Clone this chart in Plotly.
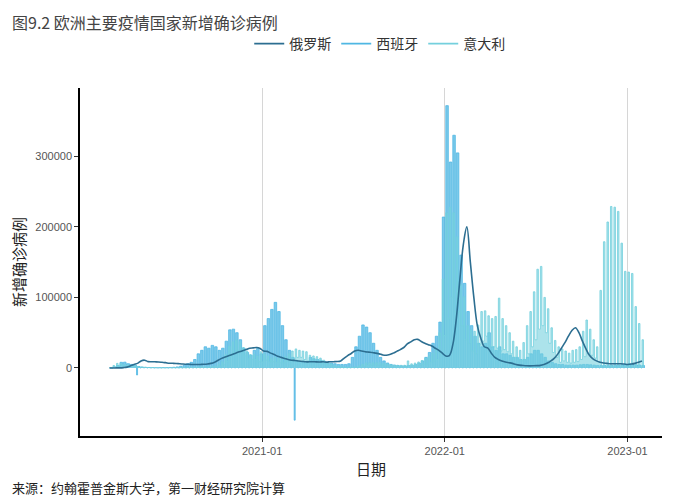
import plotly.graph_objects as go
import pandas as pd

# weekly series, first week starts 2020-03-02
start_week = "2020-03-02"

# 俄罗斯: weekly level of the smoothed daily curve
russia = [
    0, 10, 60, 150, 500, 1200, 3000, 5000, 6500, 10000, 11000, 9000, 8800,
    8700, 8500, 8000, 7500, 6700, 6600, 6400, 5900, 5500, 5200, 5100, 4800,
    4900, 5000, 5200, 5700, 6500, 8200, 10900, 13600, 15700, 17300, 19000, 21000,
    22800, 24500, 26000, 28000, 28500, 29000, 27500, 24000, 23500, 21000, 19000, 16500,
    15000, 13500, 12000, 11000, 10500, 9800, 9200, 8700, 8700, 8800, 8600, 8500,
    8700, 8300, 8800, 8900, 9100, 10000, 14000, 17500, 20500, 24000, 25000, 24000,
    23000, 22500, 22000, 21000, 20000, 18500, 18000, 19000, 21000, 23500, 26000, 29000,
    34000, 37000, 40000, 40500, 37500, 35000, 33000, 31000, 28000, 25000, 21000, 17000,
    17500, 33000, 70000, 125000, 175000, 200000, 150000, 100000, 60000, 42000, 30000, 28000,
    21000, 15000, 12000, 10000, 8500, 7500, 6500, 5000, 4000, 3500, 3100, 3000,
    3100, 3300, 3700, 5000, 7000, 10000, 14000, 20000, 28000, 36000, 45000, 53000,
    57000, 50000, 38000, 27000, 18000, 13000, 10000, 8000, 7000, 6500, 6000, 6000,
    6000, 6000, 5500, 5000, 5500, 6500, 8000, 10000,
]

# 西班牙: weekly peak report and weekly low (incl. negative revisions)
spain_high = [
    100, 1500, 3500, 8000, 8200, 6000, 5000, 4000, 2000, 1200, 800, 600, 500,
    400, 400, 500, 500, 700, 1000, 1500, 2500, 4000, 6000, 8000, 12000,
    20000, 25000, 30000, 28000, 32000, 30000, 25000, 28000, 38000, 54000, 55000, 50000,
    40000, 28000, 22000, 18000, 25000, 28000, 20000, 60000, 70000, 83000, 93000, 80000,
    60000, 40000, 25000, 15000, 10000, 9000, 10000, 8000, 15000, 13000, 12000, 11000,
    9000, 7000, 7000, 6000, 5000, 5000, 5000, 6000, 15000, 30000, 45000, 61000,
    58000, 50000, 35000, 25000, 15000, 10000, 7000, 5000, 4000, 3500, 3000, 3000,
    3500, 4000, 5000, 7000, 10000, 15000, 22000, 35000, 45000, 65000, 214000, 372000,
    292000, 330000, 305000, 160000, 120000, 80000, 60000, 45000, 35000, 30000, 35000, 50000,
    30000, 25000, 30000, 20000, 20000, 18000, 15000, 15000, 12000, 12000, 15000, 20000,
    25000, 25000, 20000, 15000, 10000, 8000, 6000, 5000, 5000, 4000, 4000, 4000,
    4000, 4500, 5000, 5000, 4500, 4000, 3500, 3500, 3500, 3500, 3500, 4000,
    4000, 4500, 5000, 6000, 5000, 4500, 4000, 3500,
]
spain_low = [
    0, 500, 2000, 6000, 5500, 4000, 3500, -10000, 0, 0, 0, 0, 0,
    0, 0, 0, 0, 0, 0, 0, 0, 0, 0, 0, 0,
    0, 0, 0, 0, 0, 0, 0, 0, 0, 0, 0, 0,
    0, 0, 0, 0, 0, 0, 0, 0, 0, 0, 0, 0,
    0, 0, 0, -74000, 0, 0, 0, 0, 0, 0, 0, 0,
    0, 0, 0, 0, 0, 0, 0, 0, 0, 0, 0, 0,
    0, 0, 0, 0, 0, 0, 0, 0, 0, 0, 0, 0,
    0, 0, 0, 0, 0, 0, 0, 0, 0, 0, 0, 0,
    0, 0, 0, 0, 0, 0, 0, 0, 0, 0, 0, 0,
    0, 0, 0, 0, 0, 0, 0, 0, 0, 0, 0, 0,
    0, 0, 0, 0, 0, 0, 0, 0, 0, 0, 0, 0,
    0, 0, 0, 0, 0, 0, 0, 0, 0, 0, 0, 0,
    0, 0, 0, 0, 0, 0, 0, 0,
]

# 意大利: weekly peak report and weekly low
italy_high = [
    600, 3500, 6500, 6500, 4800, 4300, 3800, 3400, 2100, 1400, 1000, 700, 600,
    400, 350, 330, 300, 300, 300, 300, 380, 400, 550, 650, 1000,
    1400, 1700, 1600, 1700, 1900, 2800, 5400, 8800, 19000, 31000, 37000, 40000,
    37000, 29000, 24000, 19000, 19000, 17000, 23000, 20000, 17000, 14000, 15000, 14000,
    15000, 16000, 20000, 24000, 27000, 25000, 24000, 23000, 18000, 17000, 16000, 14000,
    11000, 8000, 6000, 4000, 2500, 1900, 1200, 1000, 1100, 1600, 3100, 5100,
    7000, 7200, 7400, 7300, 7800, 6700, 5900, 4500, 4000, 3800, 3700, 3800,
    10000, 5800, 7000, 8500, 10600, 13700, 17000, 21000, 28000, 50000, 126000, 220000,
    228000, 220000, 186000, 118000, 101000, 60000, 54000, 52000, 61000, 80000, 81000, 74000,
    70000, 73000, 99000, 70000, 60000, 50000, 38000, 30000, 25000, 36000, 60000, 80000,
    108000, 140000, 144000, 100000, 84000, 57000, 39000, 30000, 27000, 24000, 21000, 25000,
    26000, 30000, 52000, 68000, 55000, 40000, 30000, 110000, 179000, 207000, 229000, 228000,
    222000, 177000, 137000, 136000, 134000, 87000, 63000, 40000,
]
italy_low = [
    200, 1500, 3200, 4000, 3800, 2900, 2200, 2000, 1200, 800, 500, 300, 300,
    200, 200, 180, 150, 140, 160, 170, 200, 250, 300, 400, 500,
    950, 1000, 1100, 1200, 1350, 1600, 2500, 4500, 9000, 17000, 22000, 25000,
    23000, 17000, 13000, 12000, 12000, 9000, 8500, 11000, 8500, 9000, 7900, 7500,
    7300, 9500, 10000, 13000, 15000, 15000, 12000, 10000, 7700, 8800, 8900, 6000,
    5100, 3500, 2500, 1800, 1300, 1000, 500, 500, 600, 800, 1500, 2500,
    3500, 3900, 4000, 3900, 4000, 3200, 3000, 2700, 2300, 2100, 2000, 2200,
    2400, 3000, 3000, 4000, 5000, 6000, 8000, 10000, 12000, 21000, 46000, 70000,
    100000, 80000, 80000, 60000, 40000, 35000, 24000, 20000, 33000, 38000, 45000, 30000,
    30000, 28000, 24000, 26000, 23000, 20000, 15000, 12000, 10000, 12000, 20000, 30000,
    40000, 55000, 60000, 50000, 35000, 22000, 15000, 8000, 10000, 8000, 7000, 8000,
    9000, 12000, 16000, 20000, 18000, 14000, 9000, 1500, 1500, 1500, 1500, 1500,
    1500, 1500, 1500, 1500, 1500, 1500, 1500, 1500,
]

y_ticks = [0, 100000, 200000, 300000]
x_ticks = ["2021-01-01", "2022-01-01", "2023-01-01"]

colors = {"俄罗斯": "#2c6e91", "西班牙": "#4fb7e3", "意大利": "#74d0dd"}
fills = {"西班牙": "rgba(79,183,227,0.75)", "意大利": "rgba(116,208,221,0.6)"}


def weekly_steps(high, low, high_days):
    # high report for the first days of the week, low for the rest
    weeks = pd.date_range(start_week, periods=len(high), freq="7D")
    xs, ys = [], []
    for d, h, l in zip(weeks, high, low):
        xs += [d, d + pd.Timedelta(days=high_days)]
        ys += [h, l]
    return xs, ys


fig = go.Figure()

# legend entries (line keys only)
for name in ["俄罗斯", "西班牙", "意大利"]:
    fig.add_trace(go.Scatter(x=[None], y=[None], name=name, mode="lines",
                             line=dict(color=colors[name], width=1.6)))

sx, sy = weekly_steps(spain_high, spain_low, 5)
fig.add_trace(go.Scatter(x=sx, y=sy, name="西班牙", mode="lines", showlegend=False,
                         fill="tozeroy", fillcolor=fills["西班牙"],
                         line=dict(color=colors["西班牙"], width=0.8, shape="hv")))

ix, iy = weekly_steps(italy_high, italy_low, 3)
fig.add_trace(go.Scatter(x=ix, y=iy, name="意大利", mode="lines", showlegend=False,
                         fill="tozeroy", fillcolor=fills["意大利"],
                         line=dict(color=colors["意大利"], width=0.8, shape="hv")))

weeks = pd.date_range(start_week, periods=len(russia), freq="7D")
fig.add_trace(go.Scatter(x=weeks, y=russia, name="俄罗斯", mode="lines", showlegend=False,
                         line=dict(color=colors["俄罗斯"], width=1.6, shape="spline")))

# the page shows the figure 8px in from the top-left corner
fig.update_layout(
    width=700, height=500,
    margin=dict(l=72, r=46, t=80, b=72, autoexpand=False),
    paper_bgcolor="white", plot_bgcolor="white",
    font=dict(family="Liberation Sans, Noto Sans CJK SC", size=12, color="#333333"),
    showlegend=True,
    legend=dict(orientation="h", x=0.515, xanchor="center", y=1.1264, yanchor="middle",
                font=dict(family="Noto Sans CJK SC", size=14, color="#333333"),
                itemwidth=30, tracegroupgap=0),
    annotations=[
        dict(text="图9.2 欧洲主要疫情国家新增确诊病例", xref="paper", yref="paper",
             x=-0.12, y=1.19, xanchor="left", yanchor="middle", showarrow=False,
             font=dict(family="Noto Sans CJK SC", size=16, color="#444444")),
        dict(text="来源：约翰霍普金斯大学，第一财经研究院计算", xref="paper", yref="paper",
             x=-0.12, y=-0.1494, xanchor="left", yanchor="middle", showarrow=False,
             font=dict(family="Noto Sans CJK SC", size=13, color="#222222")),
    ],
)

fig.update_xaxes(
    type="date", automargin=False,
    range=["2020-01-03", "2023-03-11"],
    tickvals=x_ticks, tickformat="%Y-%m",
    showgrid=True, gridcolor="#d6d6d6", gridwidth=1,
    showline=True, linecolor="black", linewidth=1.5,
    ticks="outside", ticklen=4, tickcolor="#333333",
    tickfont=dict(size=11, color="#555555"),
    title=dict(text="日期", font=dict(family="Noto Sans CJK SC", size=15, color="#222222"),
               standoff=9),
    zeroline=False,
)
fig.update_yaxes(
    automargin=False,
    range=[-96500, 397000],
    tickvals=y_ticks, tickformat="d",
    showgrid=False, zeroline=False,
    showline=True, linecolor="black", linewidth=1.5,
    ticks="outside", ticklen=4, tickcolor="#333333",
    tickfont=dict(size=11, color="#555555"),
    title=dict(text="新增确诊病例", font=dict(family="Noto Sans CJK SC", size=15, color="#222222"),
               standoff=13),
)

fig.write_html("out.html")
